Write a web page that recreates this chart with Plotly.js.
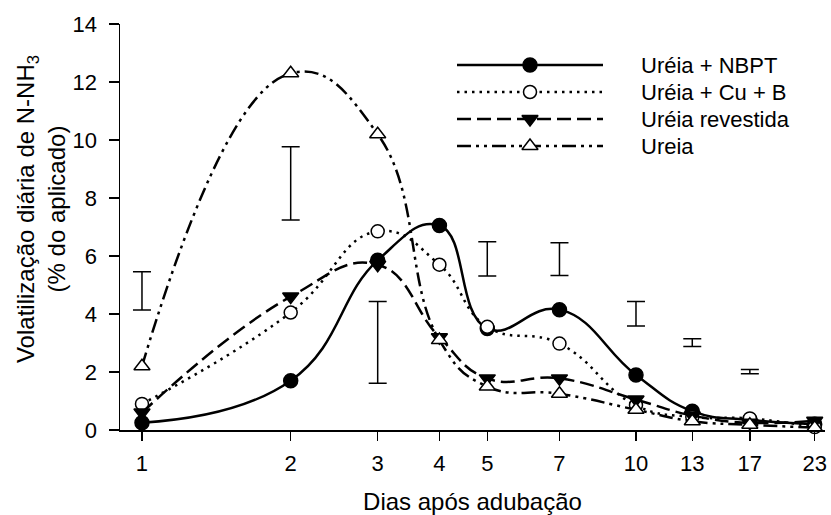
<!DOCTYPE html>
<html>
<head>
<meta charset="utf-8">
<script src="https://cdn.plot.ly/plotly-3.0.1.min.js"></script>
<style>html,body{margin:0;padding:0;background:#fff;}#chart{width:831px;height:515px;}</style>
</head>
<body>
<div id="chart"></div>
<script>
// ---- data ----
const days = [1, 2, 3, 4, 5, 7, 10, 13, 17, 23];
const tickLabels = ['1', '2', '3', '4', '5', '7', '10', '13', '17', '23'];
const nbpt      = [0.25, 1.7, 5.85, 7.05, 3.5, 4.15, 1.9, 0.65, 0.35, 0.2];
const cuB       = [0.9, 4.05, 6.85, 5.7, 3.56, 2.98, 0.85, 0.45, 0.4, 0.1];
const revestida = [0.6, 4.6, 5.7, 3.2, 1.78, 1.78, 1.05, 0.5, 0.25, 0.32];
const ureia     = [2.2, 12.3, 10.2, 3.1, 1.5, 1.25, 0.7, 0.3, 0.18, 0.08];
const seriesNames = ['Uréia + NBPT', 'Uréia + Cu + B', 'Uréia revestida', 'Ureia'];
// LSD bars (low / high ends)
const lsdDays = [1, 2, 3, 5, 7, 10, 13, 17];
const lsdLow  = [4.14, 7.24, 1.61, 5.31, 5.33, 3.59, 2.88, 1.94];
const lsdHigh = [5.46, 9.77, 4.43, 6.49, 6.46, 4.43, 3.15, 2.09];

// ---- styles ----
const FONT = 'Liberation Sans, Arial, sans-serif';
const styles = [
  {dash: 'solid', symbol: 'circle', fill: 'black', size: 14},
  {dash: '2.5px,5px', symbol: 'circle', fill: 'white', size: 13},
  {dash: '14px,6px', symbol: 'triangle-down', fill: 'black', size: 14},
  {dash: '14px,5px,3px,5px,3px,5px', symbol: 'triangle-up', fill: 'white', size: 14}
];
const seriesData = [nbpt, cuB, revestida, ureia];

const traces = [];
seriesData.forEach((ys, i) => {
  const s = styles[i];
  traces.push({
    x: days, y: ys, type: 'scatter', mode: 'lines+markers', name: seriesNames[i],
    line: {color: 'black', width: 2.5, dash: s.dash, shape: 'spline', smoothing: 1.3},
    marker: {symbol: s.symbol, size: s.size, color: s.fill, line: {color: 'black', width: 1.5}},
    cliponaxis: false, hoverinfo: 'skip'
  });
});

// LSD bars
traces.push({
  x: lsdDays,
  y: lsdLow.map((lo, i) => (lo + lsdHigh[i]) / 2),
  type: 'scatter', mode: 'markers',
  marker: {size: 1, color: 'rgba(0,0,0,0)'},
  error_y: {type: 'data', symmetric: true, array: lsdLow.map((lo, i) => (lsdHigh[i] - lo) / 2),
            color: 'black', thickness: 1.5, width: 9},
  hoverinfo: 'skip', showlegend: false
});

// custom legend (long sample lines) drawn on a pixel-space overlay axis
const legX0 = 457, legX1 = 603, legXm = 530, legTextX = 639;
const legRows = [65, 92, 119, 146];
const annotations = [];
seriesNames.forEach((nm, i) => {
  const s = styles[i];
  traces.push({
    x: [legX0, legX1], y: [legRows[i], legRows[i]], xaxis: 'x2', yaxis: 'y2',
    type: 'scatter', mode: 'lines', line: {color: 'black', width: 2.5, dash: s.dash},
    hoverinfo: 'skip', showlegend: false
  });
  traces.push({
    x: [legXm], y: [legRows[i]], xaxis: 'x2', yaxis: 'y2',
    type: 'scatter', mode: 'markers',
    marker: {symbol: s.symbol, size: s.size, color: s.fill, line: {color: 'black', width: 1.5}},
    hoverinfo: 'skip', showlegend: false
  });
  annotations.push({
    xref: 'x2', yref: 'y2', x: legTextX, y: legRows[i], text: nm, showarrow: false,
    xanchor: 'left', yanchor: 'middle', font: {family: FONT, size: 22, color: 'black'}
  });
});

annotations.push({
  xref: 'paper', yref: 'paper', x: -0.113, y: 0.545, xanchor: 'center', yanchor: 'middle',
  textangle: -90, showarrow: false, align: 'center',
  text: 'Volatilização diária de N-NH<sub>3</sub><br>(% do aplicado)',
  font: {family: FONT, size: 24, color: 'black'}
});

const layout = {
  width: 831, height: 515,
  margin: {l: 120, r: 6, t: 24, b: 85, pad: 0},
  paper_bgcolor: 'white', plot_bgcolor: 'white',
  showlegend: false,
  font: {family: FONT, size: 22, color: 'black'},
  xaxis: {
    type: 'log', range: [-0.0445, 1.3826],
    tickmode: 'array', tickvals: days, ticktext: tickLabels,
    ticks: 'outside', ticklen: 9, tickwidth: 1.5, tickcolor: 'black',
    showline: true, linewidth: 1.5, linecolor: 'black',
    showgrid: false, zeroline: false,
    ticklabelstandoff: 4,
    tickfont: {family: FONT, size: 22},
    title: {text: 'Dias após adubação', font: {family: FONT, size: 24}, standoff: 20}
  },
  yaxis: {
    range: [0, 14], tick0: 0, dtick: 2,
    ticks: 'outside', ticklen: 10, tickwidth: 1.5, tickcolor: 'black',
    showline: true, linewidth: 1.5, linecolor: 'black',
    showgrid: false, zeroline: false,
    ticklabelstandoff: 7,
    tickfont: {family: FONT, size: 22}
  },
  xaxis2: {overlaying: 'x', range: [120, 825], visible: false, fixedrange: true},
  yaxis2: {overlaying: 'y', range: [430, 24], visible: false, fixedrange: true},
  shapes: [
    {type: 'line', xref: 'paper', yref: 'paper', x0: -10 / 705, x1: 0, y0: 0, y1: 0,
     line: {color: 'black', width: 1.5}}
  ],
  annotations: annotations
};

Plotly.newPlot('chart', traces, layout, {displayModeBar: false, staticPlot: true});
</script>
</body>
</html>
